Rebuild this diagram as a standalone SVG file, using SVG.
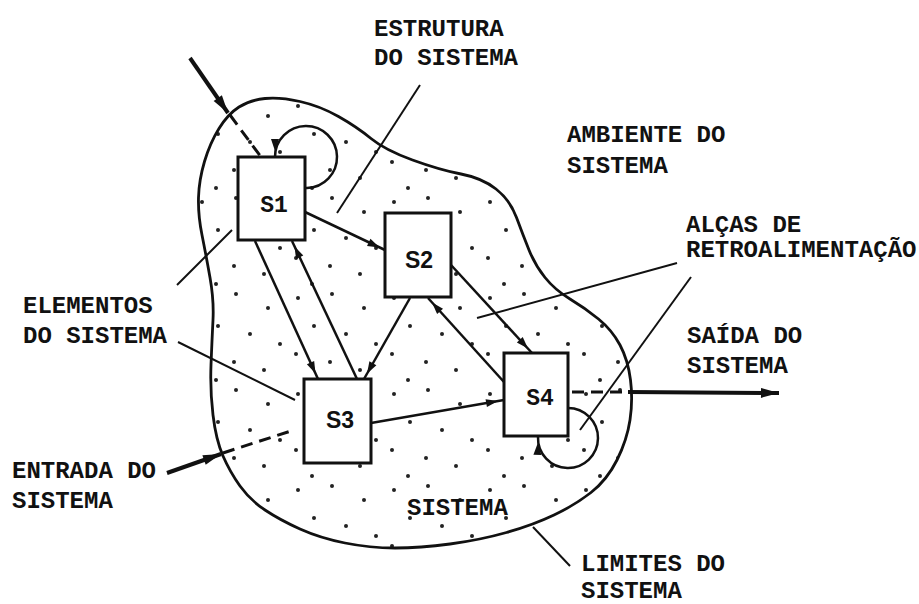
<svg xmlns="http://www.w3.org/2000/svg" width="919" height="604" viewBox="0 0 919 604">
  <style>
    .label { font-family: "Liberation Mono", "Courier New", monospace; font-weight: bold; font-size: 24px; fill: #111; }
    .node rect { fill: #fff; stroke: #111; stroke-width: 3; }
    .node text { font-weight: bold; font-size: 23px; fill: #111; text-anchor: middle; }
    .mono { font-family: "Liberation Mono", "Courier New", monospace; }
    .sans { font-family: "Liberation Sans", Arial, sans-serif; }
    .edge { fill: none; stroke: #111; stroke-width: 2.5; marker-end: url(#tip); }
    .dash { fill: none; stroke: #111; stroke-width: 3; stroke-dasharray: 12 7; }
    .io { fill: none; stroke: #111; stroke-width: 4; marker-end: url(#bigtip); }
    .leader { fill: none; stroke: #111; stroke-width: 2; }
  </style>
  <defs>
    <pattern id="stipple" width="96" height="96" patternUnits="userSpaceOnUse">
      <g fill="#222">
        <circle cx="10" cy="10" r="2"/>
        <circle cx="44" cy="6" r="2"/>
        <circle cx="76" cy="20" r="2"/>
        <circle cx="26" cy="38" r="2"/>
        <circle cx="58" cy="46" r="2"/>
        <circle cx="88" cy="56" r="2"/>
        <circle cx="8" cy="66" r="2"/>
        <circle cx="42" cy="74" r="2"/>
        <circle cx="72" cy="82" r="2"/>
        <circle cx="24" cy="92" r="2"/>
      </g>
    </pattern>
    <marker id="tip" markerUnits="userSpaceOnUse" markerWidth="20" markerHeight="8" refX="18" refY="4" orient="auto" overflow="visible">
      <path d="M0,0 L12,4 L0,8 Z" fill="#111"/>
    </marker>
    <marker id="bigtip" markerUnits="userSpaceOnUse" markerWidth="18" markerHeight="10" refX="18" refY="5" orient="auto" overflow="visible">
      <path d="M0,0 L18,5 L0,10 Z" fill="#111"/>
    </marker>
  </defs>

  <rect width="919" height="604" fill="#fff"/>

  <!-- system boundary with stippled interior -->
  <g id="system-boundary">
    <path d="M239,107 Q250,100 265,98.5 Q280,97 300,101.5 Q320,106 338.5,116.5 Q357,127 371,138.5 Q385,150 412.5,160 Q440,170 461,174 Q482,178 496,189 Q510,200 516.5,217.5 Q523,235 529,250 Q535,265 545,277.5 Q555,290 570,299 Q585,308 598.5,319 Q612,330 620,345 Q628,360 630.5,380 Q633,400 630,420 Q627,440 617,460 Q607,480 591,492.5 Q575,505 554,515 Q533,525 506.5,532.5 Q480,540 450,544 Q420,548 395,548 Q370,548 345,543 Q320,538 300,529 Q280,520 265,510 Q250,500 240,486 Q230,472 223,456 Q216,440 213,415 Q210,390 211,365 Q212,340 213,320 Q214,300 210,277.5 Q206,255 202,235 Q198,215 198.5,197.5 Q199,180 204.5,161.5 Q210,143 219,128.5 Q228,114 239,107 Z" fill="url(#stipple)" stroke="#111" stroke-width="2.8"/>
  </g>

  <!-- connectors -->
  <g id="connectors">
    <path class="edge" d="M305,212 L385,250"/>
    <path class="edge" d="M255,241 L318,379"/>
    <path class="edge" d="M357,379 L292,241"/>
    <path class="edge" d="M410,298 L364,379"/>
    <path class="edge" d="M504,382 L428,298"/>
    <path class="edge" d="M451,265 L532,353"/>
    <path class="edge" d="M371,423 L504,400"/>
    <!-- feedback loops -->
    <path class="edge" d="M305,188 L307,188 A31,31 0 1 0 275,157"/>
    <path class="edge" d="M568,408 A30,30 0 1 1 538,437"/>
    <!-- inputs and output -->
    <path class="io" d="M190,58 L228,113"/>
    <path class="dash" d="M230,115 L261,157"/>
    <path class="io" d="M167,473 L221,454"/>
    <path class="dash" d="M223,453 L294,430"/>
    <path class="dash" d="M572,392 L628,392"/>
    <path class="io" d="M628,392 L779,393"/>
    <!-- label leaders -->
    <path class="leader" d="M420,85 L337,213"/>
    <path class="leader" d="M677,263 L477,318"/>
    <path class="leader" d="M691,277 L580,430"/>
    <path class="leader" d="M177,285 L232,230"/>
    <path class="leader" d="M178,342 L295,400"/>
    <path class="leader" d="M533,527 L570,566"/>
  </g>

  <!-- system elements -->
  <g id="S1" class="node">
    <rect x="238" y="157" width="67" height="83"/>
    <text class="mono" x="274" y="212">S1</text>
  </g>
  <g id="S2" class="node">
    <rect x="385" y="213" width="66" height="84"/>
    <text class="sans" x="419" y="268">S2</text>
  </g>
  <g id="S3" class="node">
    <rect x="304" y="379" width="67" height="84"/>
    <text class="sans" x="340" y="428">S3</text>
  </g>
  <g id="S4" class="node">
    <rect x="504" y="353" width="64" height="83"/>
    <text class="mono" x="540" y="405">S4</text>
  </g>

  <!-- annotations -->
  <g id="labels">
    <text class="label" x="374" y="36">ESTRUTURA</text>
    <text class="label" x="374" y="65">DO SISTEMA</text>
    <text class="label" x="567" y="142">AMBIENTE DO</text>
    <text class="label" x="567" y="173">SISTEMA</text>
    <text class="label" x="686" y="232">ALÇAS DE</text>
    <text class="label" x="686" y="257">RETROALIMENTAÇÃO</text>
    <text class="label" x="23" y="313">ELEMENTOS</text>
    <text class="label" x="23" y="343">DO SISTEMA</text>
    <text class="label" x="687" y="343">SAÍDA DO</text>
    <text class="label" x="687" y="373">SISTEMA</text>
    <text class="label" x="12" y="478">ENTRADA DO</text>
    <text class="label" x="12" y="508">SISTEMA</text>
    <text class="label" x="407" y="515">SISTEMA</text>
    <text class="label" x="581" y="571">LIMITES DO</text>
    <text class="label" x="581" y="598">SISTEMA</text>
  </g>
</svg>
